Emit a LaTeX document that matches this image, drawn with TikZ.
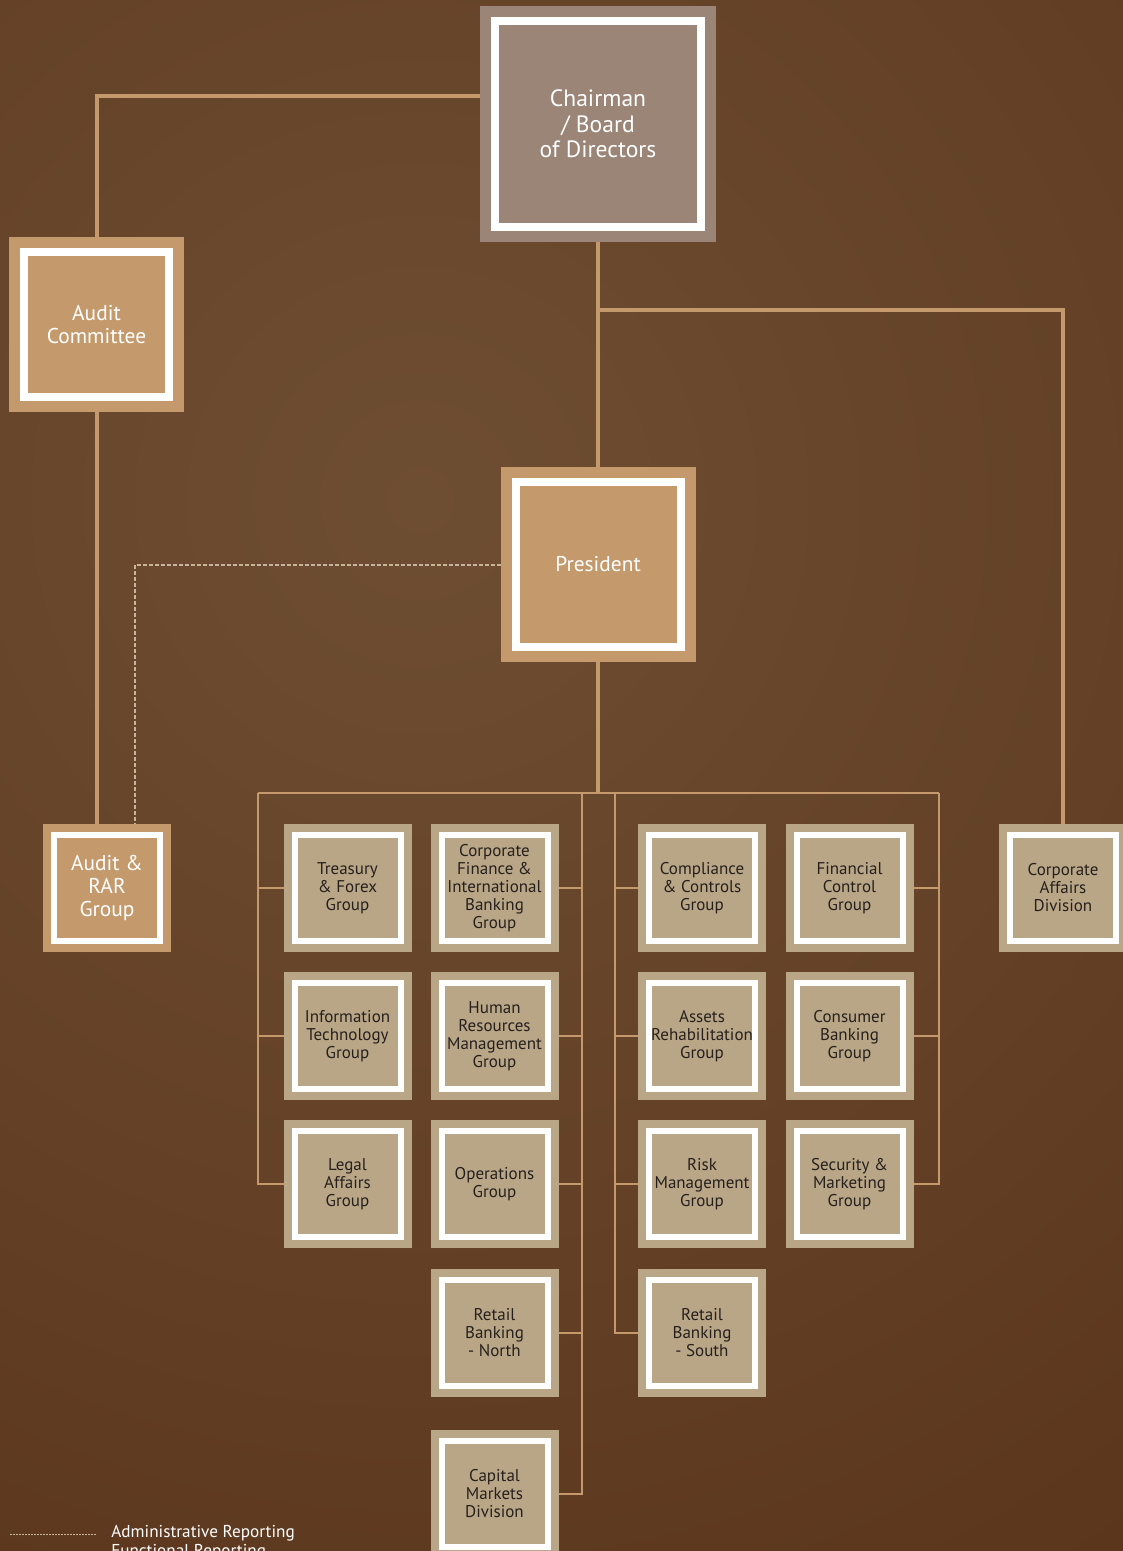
\documentclass[tikz,border=0pt]{standalone}
\usepackage{fontspec}
\setmainfont{PT Sans}
\usetikzlibrary{positioning}

\definecolor{bgdark}{HTML}{59331A}
\definecolor{bglight}{HTML}{6E4E33}
\definecolor{chaircol}{HTML}{9A8577}
\definecolor{tancol}{HTML}{C49A6C}
\definecolor{beigecol}{HTML}{B9A687}
\definecolor{inkcol}{HTML}{26201D}
\definecolor{dashcol}{HTML}{C8B49A}

\begin{document}
\begin{tikzpicture}[x=0.5pt,y=-0.5pt,
  unit/.style={fill=beigecol,draw=beigecol,double=white,double distance=3pt,
    line width=4pt,outer sep=5.5pt,minimum size=53pt,inner sep=0pt,align=center,
    text=inkcol,font=\fontsize{8.5}{9}\selectfont},
  head/.style={fill=tancol,draw=tancol,double=white,double distance=4pt,
    line width=5.5pt,outer sep=7.5pt,inner sep=0pt,align=center,text=white,
    font=\fontsize{11}{11.5}\selectfont},
  mainline/.style={draw=tancol,line width=2pt},
  subline/.style={draw=tancol,line width=1.1pt},
  adminline/.style={draw=dashcol,line width=1pt,dash pattern=on 2pt off 1pt}]

\useasboundingbox (0,0) rectangle (1123,1551);
\begin{scope}
\clip (0,0) rectangle (1123,1551);
\fill[bgdark] (0,0) rectangle (1123,1551);
\shade[inner color=bglight,outer color=bgdark] (420,500) circle (700pt);

% top of the chart
\node[head,fill=chaircol,draw=chaircol,minimum size=103pt,
  font=\fontsize{11.8}{12.75}\selectfont] (chairman) at (598,124) {Chairman\\/ Board\\of Directors};
\node[head,minimum size=72.5pt,font=\fontsize{10.7}{11.5}\selectfont] (auditcom) at (96.5,324.5) {Audit\\Committee};
\node[head,minimum size=82.5pt,font=\fontsize{10.7}{11.5}\selectfont] (president) at (598,564.5) {President};
\node[unit,fill=tancol,draw=tancol,text=white,font=\fontsize{10.7}{11.5}\selectfont] (auditrar) at (107,888) {Audit \&\\RAR\\Group};
\node[unit] (corpaff) at (1063,888) {Corporate\\Affairs\\Division};

% groups
\node[unit] (treasury) at (347.5,888) {Treasury\\\& Forex\\Group};
\node[unit] (corpfin) at (494.5,888) {Corporate\\Finance \&\\International\\Banking\\Group};
\node[unit] (complian) at (702,888) {Compliance\\\& Controls\\Group};
\node[unit] (fincon) at (849.5,888) {Financial\\Control\\Group};
\node[unit] (infotech) at (347.5,1036) {Information\\Technology\\Group};
\node[unit] (humres) at (494.5,1036) {Human\\Resources\\Management\\Group};
\node[unit] (assets) at (702,1036) {Assets\\Rehabilitation\\Group};
\node[unit] (consumer) at (849.5,1036) {Consumer\\Banking\\Group};
\node[unit] (legal) at (347.5,1184) {Legal\\Affairs\\Group};
\node[unit] (operations) at (494.5,1184) {Operations\\Group};
\node[unit] (risk) at (702,1184) {Risk\\Management\\Group};
\node[unit] (security) at (849.5,1184) {Security \&\\Marketing\\Group};
\node[unit] (retailn) at (494.5,1333) {Retail\\Banking\\- North};
\node[unit] (retails) at (702,1333) {Retail\\Banking\\- South};
\node[unit] (capital) at (494.5,1494) {Capital\\Markets\\Division};

\draw[mainline] ([yshift=14pt]chairman.west) -| (auditcom.north);
\draw[mainline] (auditcom.south) -- (auditcom.south |- auditrar.north);
\draw[mainline] (chairman.south) -- (president.north);
\coordinate (split) at (598,310);
\draw[mainline] (split) -| (corpaff.north);
\draw[adminline] (president.west) -| ([xshift=14pt]auditrar.north);

% bus under the president
\coordinate (busw) at (258,793);
\coordinate (buse) at (939,793);
\coordinate (busa) at (582,793);
\coordinate (busb) at (615,793);
\draw[mainline] (president.south) -- (president.south |- busw);
\draw[subline] (busw) -- (buse);
\draw[subline] (busw) |- (legal.west);
\foreach \n in {treasury,infotech} \draw[subline] (\n.west) -- (\n.west -| busw);
\draw[subline] (busa) |- (capital.east);
\foreach \n in {corpfin,humres,operations,retailn} \draw[subline] (\n.east) -- (\n.east -| busa);
\draw[subline] (busb) |- (retails.west);
\foreach \n in {complian,assets,risk} \draw[subline] (\n.west) -- (\n.west -| busb);
\draw[subline] (buse) |- (security.east);
\foreach \n in {fincon,consumer} \draw[subline] (\n.east) -- (\n.east -| buse);

% legend
\draw[draw=dashcol,line width=0.5pt,dash pattern=on 1pt off 0.5pt] (10,1534) -- (97,1534);
\node[anchor=north west,inner sep=0pt,align=left,text=white,
  font=\fontsize{8.6}{9.5}\selectfont] (legend) at (111,1525) {Administrative Reporting\\Functional Reporting};
\end{scope}
\end{tikzpicture}
\end{document}
